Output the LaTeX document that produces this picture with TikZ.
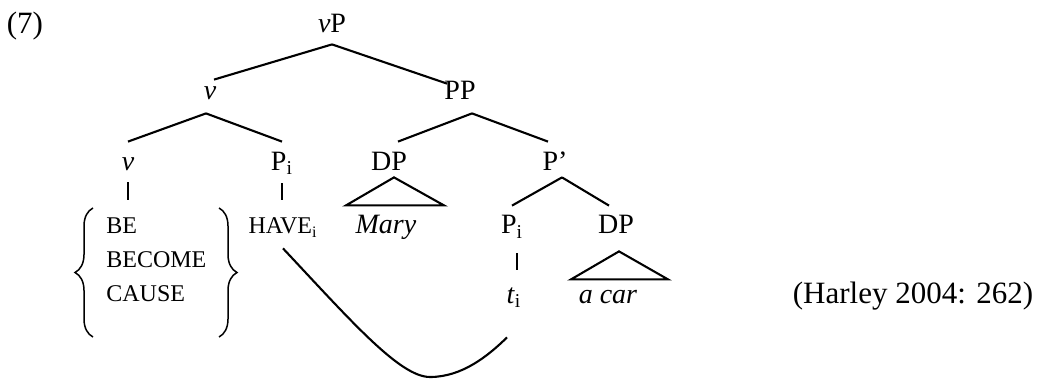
\documentclass[tikz,border=0pt]{standalone}
\usepackage{fontspec}
\setmainfont{Liberation Serif}
\usetikzlibrary{decorations.pathreplacing}
\begin{document}
\begin{tikzpicture}[x=0.5pt,y=-0.5pt,
  lab/.style={anchor=base, inner sep=0pt, font=\fontsize{14}{16}\selectfont},
  sm/.style={anchor=base, inner sep=0pt, font=\fontsize{12}{14}\selectfont},
  big/.style={anchor=base, inner sep=0pt, font=\fontsize{15.5}{18}\selectfont},
  hd/.style 2 args={text height=#1, text depth=#2},
  branch/.style={line width=1.05pt},
  bracestyle/.style={line width=0.75pt, decorate, decoration={brace, amplitude=9pt}}]
\useasboundingbox (0,0) rectangle (1042,379);

% labels
\node[big] (ex) at (25,34) {(7)};
\node[big] (harley) at (913,303) {(Harley 2004: 262)};

\node[lab, hd={9pt}{5.5pt}] (vP) at (332,33) {\textit{v}P};
\node[lab, hd={10pt}{6.5pt}] (v1) at (210,100) {\textit{v}};
\node[lab, hd={8pt}{6.5pt}] (PP) at (460,100) {PP};
\node[lab, hd={14pt}{6pt}] (v2) at (128,170) {\textit{v}};
\node[lab, hd={14pt}{6.5pt}] (Pi1) at (282,170) {P\textsubscript{i}};
\node[lab, hd={14pt}{3.5pt}] (DP1) at (389,170) {DP};
\node[lab, hd={14pt}{3.5pt}] (Pbar) at (555,170) {P'};

\node[sm, anchor=base west] (be) at (106,234) {BE};
\node[sm, anchor=base west] (become) at (106,267) {BECOME};
\node[sm, anchor=base west] (cause) at (106,301) {CAUSE};
\coordinate (grp) at (128,200);

\node[sm, hd={17pt}{7pt}] (have) at (283,234) {HAVE\textsubscript{i}};
\node[lab] (mary) at (386,234) {\textit{Mary}};
\node[lab, hd={14pt}{9.5pt}] (Pi2) at (512,234) {P\textsubscript{i}};
\node[lab, hd={14pt}{8.5pt}] (DP2) at (616,234) {DP};
\node[lab, hd={16.5pt}{17pt}] (t) at (514,303) {\textit{t}\textsubscript{i}};
\node[lab] (acar) at (608,303) {\textit{a car}};

% branches
\draw[branch] (vP.south) -- ([xshift=2pt]v1.north);
\draw[branch] (vP.south) -- ([xshift=-6.5pt]PP.north);
\draw[branch] ([xshift=-2pt]v1.south) -- (v2.north);
\draw[branch] ([xshift=-2pt]v1.south) -- (Pi1.north);
\draw[branch] ([xshift=6pt]PP.south) -- ([xshift=4.5pt]DP1.north);
\draw[branch] ([xshift=6pt]PP.south) -- ([xshift=-3.5pt]Pbar.north);
\draw[branch] ([xshift=3.5pt]Pbar.south) -- (Pi2.north);
\draw[branch] ([xshift=3.5pt]Pbar.south) -- ([xshift=-3.5pt]DP2.north);

\draw[branch] (v2.south) -- (v2.south |- grp);
\draw[branch] (Pi1.south) -- (Pi1.south |- have.north);
\draw[branch] ([xshift=2.5pt]Pi2.south) -- ([xshift=2.5pt]Pi2.south |- t.north);

% roofs
\draw[branch] ([xshift=2.5pt]DP1.south) -- +(-24pt,-14pt) -- +(25pt,-14pt) -- cycle;
\draw[branch] ([xshift=1.5pt]DP2.south) -- +(-24pt,-14pt) -- +(24.5pt,-14pt) -- cycle;

% braces
\draw[bracestyle] (93,337) -- (93,208);
\draw[bracestyle] (219,208) -- (219,337);

% movement curve
\draw[branch] (have.south) .. controls (352,322) and (400,377) .. (430,377)
  .. controls (462,377) and (488,356) .. ([xshift=-3.5pt]t.south);
\end{tikzpicture}
\end{document}
